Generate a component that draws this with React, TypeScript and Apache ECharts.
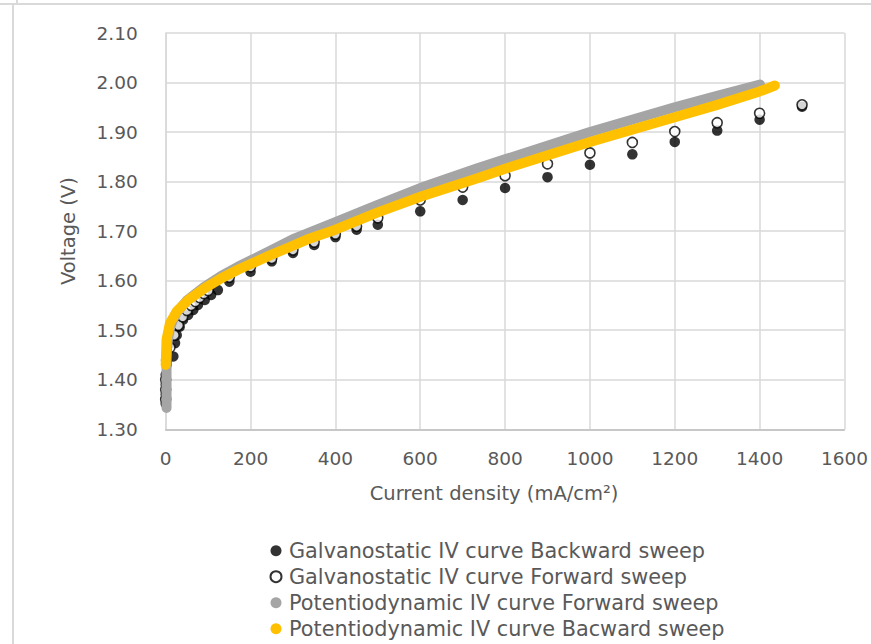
import React, { useEffect, useRef } from "react";
import * as echarts from "echarts";

// Galvanostatic IV curve – Backward sweep (filled black)
const gbCurrent = [0, 0, 0, 0, 2, 18, 22, 26, 33, 41, 53, 65, 76, 92, 107, 123, 150, 200, 250, 300, 350, 400, 450, 500, 600, 700, 800, 900, 1000, 1100, 1200, 1300, 1400, 1500];
const gbVoltage = [1.352, 1.37, 1.39, 1.41, 1.43, 1.447, 1.474, 1.49, 1.507, 1.521, 1.531, 1.541, 1.551, 1.561, 1.571, 1.581, 1.598, 1.618, 1.639, 1.656, 1.672, 1.688, 1.703, 1.713, 1.74, 1.763, 1.787, 1.809, 1.834, 1.855, 1.88, 1.903, 1.925, 1.951];

// Galvanostatic IV curve – Forward sweep (hollow)
const gfCurrent = [0, 0, 0, 2, 10, 20, 30, 40, 50, 60, 70, 80, 90, 100, 150, 200, 250, 300, 350, 400, 450, 500, 600, 700, 800, 900, 1000, 1100, 1200, 1300, 1400, 1500];
const gfVoltage = [1.36, 1.38, 1.4, 1.44, 1.465, 1.49, 1.51, 1.527, 1.54, 1.55, 1.558, 1.566, 1.574, 1.58, 1.607, 1.628, 1.645, 1.662, 1.678, 1.694, 1.71, 1.727, 1.763, 1.789, 1.812, 1.836, 1.858, 1.879, 1.901, 1.919, 1.938, 1.955];

// Potentiodynamic IV curve – Forward sweep (grey)
const pfCurrent = [2, 2, 2, 3, 5, 11, 25, 50, 90, 130, 170, 210, 250, 300, 400, 500, 600, 735, 800, 1000, 1200, 1300, 1401];
const pfVoltage = [1.343, 1.38, 1.43, 1.46, 1.48, 1.508, 1.535, 1.56, 1.587, 1.609, 1.628, 1.645, 1.662, 1.684, 1.718, 1.753, 1.787, 1.827, 1.845, 1.9, 1.95, 1.973, 1.996];

// Potentiodynamic IV curve – Backward sweep (yellow)
const pbCurrent = [0, 2, 10, 26, 53, 92, 131, 170, 209, 248, 287, 333, 400, 500, 602, 735, 800, 1000, 1200, 1300, 1400, 1436];
const pbVoltage = [1.43, 1.481, 1.514, 1.538, 1.561, 1.585, 1.605, 1.622, 1.637, 1.652, 1.666, 1.683, 1.703, 1.738, 1.77, 1.807, 1.826, 1.88, 1.93, 1.955, 1.982, 1.994];

const xTicks = { min: 0, max: 1600, interval: 200 };
const yTicks = { min: 1.3, max: 2.1, interval: 0.1 };

const seriesNames = [
  "Galvanostatic IV curve Backward sweep",
  "Galvanostatic IV curve Forward sweep",
  "Potentiodynamic IV curve Forward sweep",
  "Potentiodynamic IV curve Bacward sweep",
];

const zip = (xs: number[], ys: number[]) => xs.map((x, i) => [x, ys[i]]);

const FONT = "DejaVu Sans";
const TEXT = "#595959";

export default function App() {
  const ref = useRef<HTMLDivElement>(null);
  useEffect(() => {
    if (!ref.current) return;
    const chart = echarts.init(ref.current, undefined, { renderer: "svg" });
    chart.setOption({
      animation: false,
      backgroundColor: "#ffffff",
      textStyle: { fontFamily: FONT },
      grid: { left: 165.7, top: 33, width: 685, height: 396.3, containLabel: false },
      xAxis: {
        type: "value",
        min: xTicks.min,
        max: xTicks.max,
        interval: xTicks.interval,
        name: "Current density (mA/cm²)",
        nameLocation: "middle",
        nameGap: 64.5,
        nameTextStyle: { color: TEXT, fontSize: 19.5, fontFamily: FONT, verticalAlign: "middle", padding: [0, 22, 0, 0] },
        axisLine: { show: true, lineStyle: { color: "#bfbfbf", width: 1.5 } },
        axisTick: { show: false },
        splitLine: { show: true, lineStyle: { color: "#d9d9d9", width: 1.5 } },
        axisLabel: { color: TEXT, fontSize: 18.5, fontFamily: FONT, margin: 20, formatter: (v: number) => String(v) },
      },
      yAxis: {
        type: "value",
        min: yTicks.min,
        max: yTicks.max,
        interval: yTicks.interval,
        name: "Voltage (V)",
        nameLocation: "middle",
        nameGap: 97,
        nameRotate: 90,
        nameTextStyle: { color: TEXT, fontSize: 19.5, fontFamily: FONT, verticalAlign: "middle" },
        axisLine: { show: true, lineStyle: { color: "#d9d9d9", width: 1.5 } },
        axisTick: { show: false },
        splitLine: { show: true, lineStyle: { color: "#d9d9d9", width: 1.5 } },
        axisLabel: { color: TEXT, fontSize: 18.5, fontFamily: FONT, margin: 28, formatter: (v: number) => v.toFixed(2) },
      },
      legend: {
        orient: "vertical",
        left: 269.5,
        top: 537.7,
        height: 106,
        padding: 0,
        itemWidth: 16,
        itemHeight: 11,
        itemGap: 0,
        textStyle: { color: TEXT, fontSize: 20.8, fontFamily: FONT, lineHeight: 26 },
        data: seriesNames.map((n) => ({ name: n, icon: "circle" })),
      },
      graphic: [
        { type: "line", shape: { x1: 0, y1: 4, x2: 871, y2: 4 }, style: { stroke: "#d9d9d9", lineWidth: 2 } },
        { type: "line", shape: { x1: 13, y1: 4, x2: 13, y2: 644 }, style: { stroke: "#d9d9d9", lineWidth: 2 } },
        { type: "line", shape: { x1: 17, y1: 0, x2: 17, y2: 4 }, style: { stroke: "#d9d9d9", lineWidth: 2 } },
      ],
      series: [
        {
          name: seriesNames[0],
          type: "scatter",
          symbol: "circle",
          symbolSize: 10.5,
          itemStyle: { color: "#000000" },
          data: zip(gbCurrent, gbVoltage),
        },
        {
          name: seriesNames[1],
          type: "scatter",
          symbol: "circle",
          symbolSize: 10,
          itemStyle: { color: "#ffffff", borderColor: "#000000", borderWidth: 1.6 },
          data: zip(gfCurrent, gfVoltage),
        },
        {
          name: seriesNames[2],
          type: "line",
          showSymbol: false,
          symbol: "circle",
          itemStyle: { color: "#a5a5a5" },
          lineStyle: { color: "#a5a5a5", width: 10, cap: "round", join: "round" },
          data: zip(pfCurrent, pfVoltage),
        },
        {
          name: seriesNames[3],
          type: "line",
          showSymbol: false,
          symbol: "circle",
          itemStyle: { color: "#ffc000" },
          lineStyle: { color: "#ffc000", width: 10, cap: "round", join: "round" },
          data: zip(pbCurrent, pbVoltage),
        },
      ],
    });
    return () => chart.dispose();
  }, []);
  return (
    <div
      ref={ref}
      style={{ position: "fixed", left: 0, top: 0, width: 871, height: 644 }}
    />
  );
}
